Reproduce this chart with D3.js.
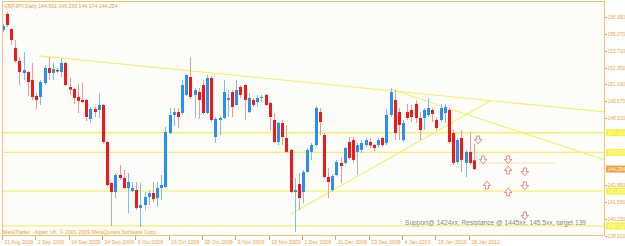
<!DOCTYPE html>
<html lang="en">
<head>
  <meta charset="UTF-8">
  <title>GBPJPY Daily</title>
  <script src="https://d3js.org/d3.v7.min.js"></script>
  <style>
    body { margin: 0; background: #fff; }
    svg text { font-family: "Liberation Sans", Arial, sans-serif; }
    .wick { shape-rendering: crispEdges; }
  </style>
</head>
<body>
  <svg width="625" height="246"></svg>
  <script>
// daily bars, oldest first (21 Aug 2009 .. 1 Feb 2010)
const barOpen = [
  155.35, 156.63, 155.43, 153.92, 152.88, 151.92, 152.00, 151.36, 150.09, 150.01,
  151.12, 152.32, 151.92, 152.16, 152.00, 152.72, 150.80, 150.64, 150.01, 149.77,
  149.77, 148.25, 149.05, 148.97, 149.37, 146.41, 143.14, 142.42, 143.78, 143.54,
  142.74, 142.50, 142.58, 141.15, 141.39, 142.02, 142.34, 141.94, 142.74, 142.82,
  147.13, 148.57, 148.81, 148.73, 150.17, 151.60, 150.17, 150.40, 150.96, 148.73,
  151.52, 146.81, 148.17, 148.33, 149.77, 150.40, 149.37, 150.80, 150.96, 148.81,
  149.77, 149.61, 149.93, 150.17, 149.53, 148.17, 146.41, 147.93, 146.73, 145.78,
  142.42, 143.06, 142.42, 144.02, 145.62, 146.17, 148.81, 146.97, 143.62, 142.58,
  143.78, 144.74, 144.74, 146.41, 146.57, 145.62, 145.78, 146.17, 146.41, 146.17,
  146.17, 146.73, 146.33, 148.57, 149.77, 148.81, 146.57, 148.81, 148.97, 149.45,
  148.33, 148.33, 148.57, 148.97, 148.17, 148.17, 148.73, 148.97, 147.13, 144.82,
  146.73, 144.74, 145.62, 144.951
];
const barHigh = [
  155.83, 156.79, 155.51, 154.55, 153.20, 153.60, 152.08, 152.72, 150.32, 151.36,
  152.56, 153.20, 152.72, 152.32, 153.12, 152.80, 151.52, 150.72, 151.04, 151.12,
  149.85, 149.21, 149.29, 150.32, 149.45, 146.49, 143.22, 143.94, 144.58, 144.18,
  143.94, 143.22, 143.22, 143.14, 142.42, 142.58, 143.22, 143.22, 143.78, 147.61,
  149.13, 149.13, 149.13, 151.36, 151.84, 153.20, 150.72, 150.72, 151.36, 151.76,
  151.68, 148.41, 148.49, 151.36, 150.56, 150.56, 151.36, 150.96, 151.04, 150.32,
  149.93, 150.17, 150.17, 150.24, 149.61, 148.73, 148.01, 148.17, 147.77, 145.86,
  143.54, 143.94, 144.18, 145.93, 146.33, 149.29, 149.13, 147.13, 144.34, 143.86,
  144.98, 145.14, 146.01, 146.81, 146.81, 146.33, 146.57, 146.73, 146.73, 146.25,
  146.73, 146.81, 148.97, 150.72, 150.56, 149.13, 148.17, 149.45, 149.37, 149.77,
  148.81, 149.13, 149.93, 149.13, 148.41, 149.45, 149.45, 149.13, 147.37, 146.73,
  147.37, 145.78, 147.21, 146.253
];
const barLow = [
  155.19, 155.59, 154.16, 152.72, 150.96, 151.36, 150.09, 149.77, 149.05, 149.37,
  150.96, 151.36, 151.36, 151.92, 151.60, 150.88, 150.17, 149.45, 148.73, 149.53,
  148.09, 147.93, 148.41, 148.33, 146.25, 142.90, 139.71, 141.94, 143.38, 142.66,
  140.75, 142.42, 140.99, 139.63, 140.99, 141.39, 141.62, 141.23, 141.78, 142.74,
  147.05, 147.69, 147.53, 148.57, 150.09, 149.85, 148.33, 148.25, 148.65, 148.65,
  148.01, 146.33, 146.97, 148.25, 148.41, 148.41, 149.29, 149.93, 148.17, 148.73,
  149.21, 149.21, 149.61, 149.29, 147.37, 146.33, 146.17, 146.17, 145.54, 142.34,
  139.23, 140.99, 141.54, 143.94, 144.98, 146.09, 146.97, 143.54, 141.94, 142.42,
  143.70, 143.14, 144.66, 144.98, 144.74, 143.78, 145.54, 146.01, 145.93, 145.70,
  145.93, 146.01, 146.17, 148.41, 146.57, 146.57, 146.41, 148.17, 148.01, 147.93,
  146.57, 147.37, 148.41, 148.01, 147.37, 148.01, 147.93, 146.25, 144.58, 144.66,
  144.02, 143.62, 144.58, 144.174
];
const barClose = [
  155.67, 155.75, 154.55, 152.88, 152.00, 152.16, 151.20, 150.01, 149.77, 151.20,
  152.32, 151.92, 152.24, 152.04, 152.72, 150.96, 150.60, 149.93, 149.69, 149.61,
  148.41, 149.05, 148.81, 149.37, 146.41, 142.98, 142.42, 143.78, 143.54, 142.74,
  143.22, 142.74, 141.15, 141.39, 142.02, 142.34, 141.86, 142.74, 142.98, 147.21,
  148.57, 148.81, 148.41, 150.96, 151.76, 150.01, 150.56, 149.77, 148.73, 151.52,
  148.17, 148.25, 148.33, 150.40, 149.93, 149.21, 150.56, 150.17, 149.77, 149.93,
  149.37, 149.93, 150.01, 149.37, 148.41, 146.41, 147.93, 146.81, 145.62, 142.42,
  142.58, 141.94, 144.02, 145.78, 146.17, 149.13, 148.01, 143.62, 143.22, 143.70,
  144.82, 144.50, 145.93, 145.14, 144.98, 146.17, 146.33, 146.57, 146.13, 145.93,
  146.57, 146.17, 148.57, 150.40, 147.13, 147.77, 147.93, 148.33, 148.41, 148.33,
  147.37, 148.97, 149.13, 148.65, 147.53, 149.13, 149.21, 146.41, 144.74, 146.57,
  144.98, 145.62, 144.74, 144.254
];

// time axis labels, one every 8 bars
const dateLabels = ["21 Aug 2009", "2 Sep 2009", "14 Sep 2009", "24 Sep 2009", "6 Oct 2009",
  "16 Oct 2009", "28 Oct 2009", "9 Nov 2009", "19 Nov 2009", "1 Dec 2009",
  "11 Dec 2009", "23 Dec 2009", "4 Jan 2010", "18 Jan 2010", "28 Jan 2010"];
const dateLabelBars = [0, 8, 16, 24, 32, 40, 48, 56, 64, 72, 80, 88, 96, 104, 112];

// price labels that show (the rest sit under the level tags)
const priceTicks = [156.39, 155.07, 153.71, 152.35, 151.03, 149.67, 148.31,
  142.95, 141.59, 140.23, 138.91];

// horizontal lines drawn on the chart
const hLevels = [147.153, 145.590, 142.495, 139.712];
const lastPrice = 144.254;

// trend lines: [bar, price] pairs
const trendLines = [
  [[8.7, 153.28], [144.4, 148.81]],
  [[93.6, 150.56], [144.4, 144.98]],
  [[69.1, 140.67], [117.3, 149.77]]
];
const shortLine = [[114, 144.74], [132.4, 144.74]];

// arrow marks: bar, price, direction
const arrowBars = [114, 115.2, 121.2, 121.2, 125.2, 116.1, 125.2, 121.2, 125.2];
const arrowPrices = [146.57, 144.98, 144.98, 144.18, 144.02, 142.98, 142.90, 142.42, 140.51];
const arrowDirs = ["down", "down", "down", "up", "down", "up", "down", "up", "down"];

const titleText = "GBPJPY,Daily  144.951 146.253 144.174 144.254";
const copyText = "MetaTrader - Alpari UK, \u00a9 2001-2009 MetaQuotes Software Corp.";
const noteText = "Support@ 1424xx, Resistance @ 1445xx, 145.5xx, target 139";

const plot = { left: 2, top: 1, right: 605, bottom: 236 };
const orange = "#eca445";
const yellowLine = "#f6f06e";

const svg = d3.select("svg");

const x = d3.scaleLinear().domain([0, 144]).range([2.8, 2.8 + 144 * 4.17]);
const y = d3.scaleLinear().domain([138.91, 156.39]).range([236, 17]);

svg.append("rect")
  .attr("x", plot.left).attr("y", plot.top)
  .attr("width", plot.right - plot.left).attr("height", plot.bottom - plot.top)
  .attr("fill", "#fcfdf9");

svg.append("clipPath").attr("id", "plotclip")
  .append("rect")
  .attr("x", plot.left).attr("y", plot.top)
  .attr("width", plot.right - plot.left).attr("height", plot.bottom - plot.top);

const g = svg.append("g").attr("clip-path", "url(#plotclip)");

// horizontal levels
g.selectAll(".hline")
  .data(hLevels)
  .enter()
  .append("line")
  .attr("x1", plot.left).attr("x2", plot.right)
  .attr("y1", d => y(d)).attr("y2", d => y(d))
  .attr("stroke", yellowLine)
  .attr("stroke-width", 1.3);

g.append("line")
  .attr("x1", x(shortLine[0][0])).attr("x2", x(shortLine[1][0]))
  .attr("y1", y(shortLine[0][1])).attr("y2", y(shortLine[1][1]))
  .attr("stroke", "#ececb8")
  .attr("stroke-width", 1);

// trend lines
g.selectAll(".trend")
  .data(trendLines)
  .enter()
  .append("line")
  .attr("x1", d => x(d[0][0])).attr("y1", d => y(d[0][1]))
  .attr("x2", d => x(d[1][0])).attr("y2", d => y(d[1][1]))
  .attr("stroke", yellowLine)
  .attr("stroke-width", 1.2);

// candles
const bars = barOpen.map((o, i) => ({
  i: i, o: o, h: barHigh[i], l: barLow[i], c: barClose[i]
}));

const candle = g.selectAll(".candle")
  .data(bars)
  .enter()
  .append("g");

candle.append("line")
  .attr("class", "wick")
  .attr("x1", d => Math.round(x(d.i)) + 0.5)
  .attr("x2", d => Math.round(x(d.i)) + 0.5)
  .attr("y1", d => y(d.h))
  .attr("y2", d => y(d.l))
  .attr("stroke", d => d.c >= d.o ? "#7fbdf5" : "#f29a9a")
  .attr("stroke-width", 1);

candle.append("rect")
  .attr("x", d => Math.round(x(d.i)) - 1)
  .attr("width", 3)
  .attr("y", d => y(Math.max(d.o, d.c)))
  .attr("height", d => Math.max(1, Math.abs(y(d.o) - y(d.c))))
  .attr("fill", d => d.c >= d.o ? "#2a8ff2" : "#f01818");

// arrow marks
const arrows = arrowBars.map((b, i) => ({ b: b, p: arrowPrices[i], dir: arrowDirs[i] }));
g.selectAll(".arrow")
  .data(arrows)
  .enter()
  .append("path")
  .attr("transform", d => `translate(${x(d.b)},${y(d.p)})` + (d.dir === "up" ? " scale(1,-1)" : ""))
  .attr("d", "M-1.5,-4h3v3.5h2.2l-3.7,4.3l-3.7,-4.3h2.2z")
  .attr("fill", "#fffdfb")
  .attr("stroke", "#e77c74")
  .attr("stroke-width", 0.9);

// note text
g.append("text")
  .attr("x", 405).attr("y", 225)
  .attr("font-size", 6.3)
  .attr("fill", "#8a8a8a")
  .attr("textLength", 181)
  .attr("lengthAdjust", "spacingAndGlyphs")
  .text(noteText);

// frame
svg.append("rect")
  .attr("x", plot.left + 0.5).attr("y", plot.top + 0.5)
  .attr("width", plot.right - plot.left - 1).attr("height", plot.bottom - plot.top - 1)
  .attr("fill", "none")
  .attr("stroke", "#f3c27c")
  .attr("stroke-width", 1);

svg.append("text")
  .attr("x", 4).attr("y", 8)
  .attr("font-size", 5.2)
  .attr("fill", orange)
  .text(titleText);

svg.append("text")
  .attr("x", 3).attr("y", 234)
  .attr("font-size", 5.2)
  .attr("fill", orange)
  .attr("textLength", 154)
  .attr("lengthAdjust", "spacingAndGlyphs")
  .text(copyText);

// price axis
const pAxis = svg.append("g");
pAxis.selectAll(".ptick")
  .data(priceTicks)
  .enter()
  .append("line")
  .attr("x1", plot.right).attr("x2", plot.right + 2)
  .attr("y1", d => Math.round(y(d)) + 0.5).attr("y2", d => Math.round(y(d)) + 0.5)
  .attr("stroke", orange);

pAxis.selectAll(".plabel")
  .data(priceTicks)
  .enter()
  .append("text")
  .attr("x", plot.right + 2.5)
  .attr("y", d => y(d) + 2)
  .attr("font-size", 4.9)
  .attr("fill", orange)
  .text(d => d3.format(".3f")(d));

const tags = hLevels.map(v => ({ v: v, bg: "#f7f33a" })).concat([{ v: lastPrice, bg: "#eea23a" }]);
const tag = pAxis.selectAll(".tag")
  .data(tags)
  .enter()
  .append("g");
tag.append("rect")
  .attr("x", plot.right + 1).attr("y", d => y(d.v) - 3.5)
  .attr("width", 20).attr("height", 7)
  .attr("fill", d => d.bg);
tag.append("text")
  .attr("x", plot.right + 2.5)
  .attr("y", d => y(d.v) + 2)
  .attr("font-size", 4.9)
  .attr("fill", "#fffbea")
  .text(d => d3.format(".3f")(d.v));

// time axis
const tAxis = svg.append("g");
tAxis.selectAll(".ttick")
  .data(dateLabelBars)
  .enter()
  .append("line")
  .attr("x1", d => Math.round(x(d)) - 0.5).attr("x2", d => Math.round(x(d)) - 0.5)
  .attr("y1", plot.bottom).attr("y2", plot.bottom + 4)
  .attr("stroke", orange);

tAxis.selectAll(".tlabel")
  .data(dateLabelBars)
  .enter()
  .append("text")
  .attr("x", d => x(d) + 1.5)
  .attr("y", 243.5)
  .attr("font-size", 5.2)
  .attr("fill", orange)
  .text((d, i) => dateLabels[i]);
  </script>
</body>
</html>
